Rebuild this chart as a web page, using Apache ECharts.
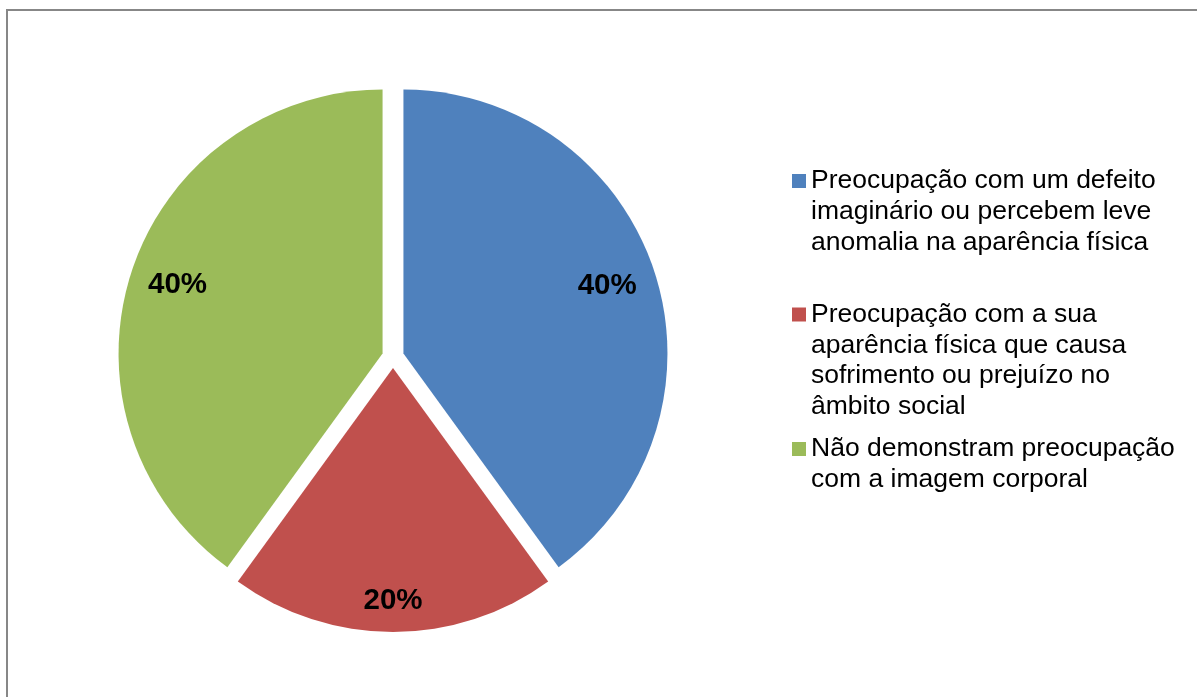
<!DOCTYPE html>
<html>
<head>
<meta charset="utf-8">
<script src="https://cdn.jsdelivr.net/npm/echarts@6/dist/echarts.min.js"></script>
<style>
html, body { margin: 0; padding: 0; background: #fff; }
#chart { width: 1197px; height: 697px; }
</style>
</head>
<body>
<div id="chart"></div>
<script>
// ---- data ----
const categories = [
  'Preocupação com um defeito imaginário ou percebem leve anomalia na aparência física',
  'Preocupação com a sua aparência física que causa sofrimento ou prejuízo no âmbito social',
  'Não demonstram preocupação com a imagem corporal'
];
const legendLines = [
  ['Preocupação com um defeito', 'imaginário ou percebem leve', 'anomalia na aparência física'],
  ['Preocupação com a sua', 'aparência física que causa', 'sofrimento ou prejuízo no', 'âmbito social'],
  ['Não demonstram preocupação', 'com a imagem corporal']
];
const values = [40, 20, 40];
const colors = ['#4F81BD', '#C0504D', '#9BBB59'];

// ---- layout ----
const R = 264;
const labelRatio = [0.80, 0.88, 0.805];
const LH = 30.8;
const iconTops = [174, 307.5, 442];
const total = values.reduce((a, b) => a + b, 0);

const chart = echarts.init(document.getElementById('chart'), null, { renderer: 'canvas' });

// Each legend text gets (n-1) leading empty lines so that the first real line
// sits level with the square marker (the block is centred on the marker).
const legends = categories.map((name, i) => {
  const n = legendLines[i].length;
  const pad = new Array(n - 1).fill('');
  return {
    data: [name],
    orient: 'vertical',
    left: 792,
    top: iconTops[i] - ((2 * n - 1) * LH / 2 - 7),
    padding: 0,
    icon: 'rect',
    itemWidth: 14,
    itemHeight: 14,
    selectedMode: false,
    formatter: () => pad.concat(legendLines[i]).join('\n'),
    textStyle: {
      color: '#000',
      fontFamily: 'Liberation Sans, Arial, sans-serif',
      fontSize: 26.5,
      lineHeight: LH
    }
  };
});

chart.setOption({
  animation: false,
  backgroundColor: '#ffffff',
  color: colors,
  graphic: [{
    type: 'rect',
    shape: { x: 7, y: 10, width: 1300, height: 800 },
    style: { fill: 'none', stroke: '#878787', lineWidth: 2 },
    silent: true,
    z: -10
  }],
  legend: legends,
  series: [{
    type: 'pie',
    center: [393, 357],
    radius: [0, R],
    startAngle: 90,
    clockwise: true,
    selectedMode: 'multiple',
    selectedOffset: 11,
    avoidLabelOverlap: false,
    emphasis: { scale: false },
    itemStyle: { borderWidth: 0 },
    select: { itemStyle: { borderWidth: 0 } },
    label: {
      show: true,
      position: 'inside',
      formatter: '{d}%',
      color: '#000',
      fontFamily: 'Liberation Sans, Arial, sans-serif',
      fontWeight: 'bold',
      fontSize: 29.5
    },
    labelLine: { show: false },
    labelLayout: function (params) {
      const i = params.dataIndex;
      let before = 0;
      for (let k = 0; k < i; k++) before += values[k];
      const mid = (before + values[i] / 2) / total * Math.PI * 2;
      const extra = labelRatio[i] * R - R / 2;
      return { dx: Math.sin(mid) * extra, dy: -Math.cos(mid) * extra - 2 };
    },
    data: categories.map((name, i) => ({ name: name, value: values[i], selected: true }))
  }]
});
</script>
</body>
</html>
